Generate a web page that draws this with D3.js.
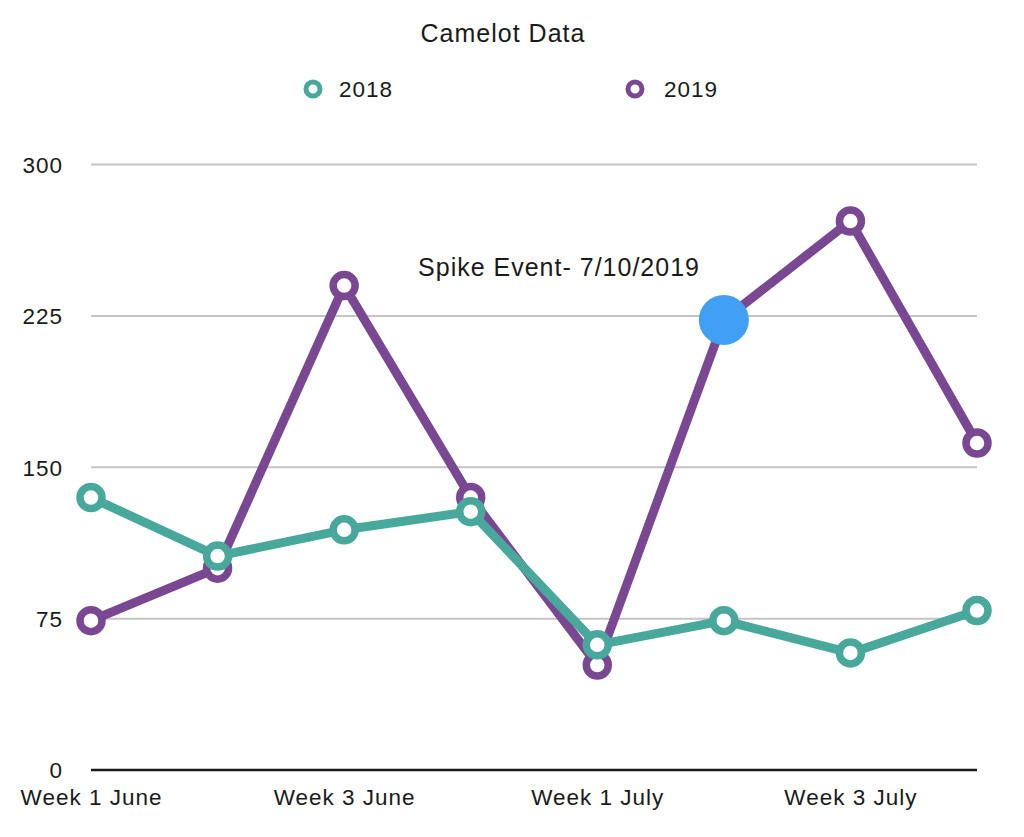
<!DOCTYPE html>
<html><head><meta charset="utf-8">
<script src="https://cdn.jsdelivr.net/npm/d3@7"></script>
<style>
html,body{margin:0;padding:0;background:#fff;}
text{font-family:"Liberation Sans",Arial,Helvetica,sans-serif;fill:#1a1a1a;letter-spacing:1px;}
</style></head>
<body>
<svg id="chart" width="1024" height="837"></svg>
<script>
const title = "Camelot Data";
const categories = ["Week 1 June","Week 2 June","Week 3 June","Week 4 June","Week 1 July","Week 2 July","Week 3 July","Week 4 July"];
const xTickLabels = ["Week 1 June","Week 3 June","Week 1 July","Week 3 July"];
const yTicks = [0,75,150,225,300];
const series2018 = [135,106,119,128,62,74,58,79];
const series2019 = [74,100,240,135,52,223,272,162];
const seriesNames = ["2018","2019"];
const spikeCategory = "Week 2 July";
const spikeLabel = "Spike Event- 7/10/2019";

const colors = {"2018":"#48a89b","2019":"#7a4892"};
const svg = d3.select("#chart");
const x = d3.scalePoint().domain(categories).range([91,977]);
const y = d3.scaleLinear().domain([0,300]).range([770,164.5]);

// title
svg.append("text").attr("x",503).attr("y",42).attr("text-anchor","middle")
  .style("font-size","25px").text(title);

// legend
const legendPos = [{mx:313,tx:339},{mx:635,tx:664}];
seriesNames.forEach((n,i)=>{
  svg.append("circle").attr("cx",legendPos[i].mx).attr("cy",89).attr("r",7)
    .attr("fill","#fff").attr("stroke",colors[n]).attr("stroke-width",5);
  svg.append("text").attr("x",legendPos[i].tx).attr("y",97)
    .style("font-size","22.5px").text(n);
});

// gridlines
svg.append("g").selectAll("line").data(yTicks.filter(d=>d>0)).join("line")
  .attr("x1",91).attr("x2",977).attr("y1",d=>y(d)).attr("y2",d=>y(d))
  .attr("stroke","#c4c4c4").attr("stroke-width",2);

// y axis labels
const yAxis = d3.axisLeft(y).tickValues(yTicks).tickSize(0).tickPadding(0);
const gy = svg.append("g").attr("transform","translate(63,0)").call(yAxis);
gy.select(".domain").remove();
gy.selectAll("text").style("font-size","22.5px").attr("dy","0.35em").attr("x",0)
  .style("font-family",'"Liberation Sans",Arial,sans-serif').attr("fill","#1a1a1a");

// x axis
const xAxis = d3.axisBottom(x).tickValues(xTickLabels).tickSize(0).tickPadding(0);
const gx = svg.append("g").attr("transform","translate(0,770)").call(xAxis);
gx.select(".domain").remove();
gx.selectAll("text").style("font-size","22.5px").attr("y",35).attr("dy",0)
  .style("font-family",'"Liberation Sans",Arial,sans-serif').attr("fill","#1a1a1a");
svg.append("line").attr("x1",91).attr("x2",977).attr("y1",y(0)).attr("y2",y(0))
  .attr("stroke","#1a1a1a").attr("stroke-width",2.5);

// series
const line = d3.line().x((d,i)=>x(categories[i])).y(d=>y(d));
function drawSeries(vals,name,skip){
  const g = svg.append("g");
  g.append("path").datum(vals).attr("d",line).attr("fill","none")
    .attr("stroke",colors[name]).attr("stroke-width",9).attr("stroke-linejoin","round");
  g.selectAll("circle").data(vals.map((v,i)=>({v,c:categories[i]})).filter(d=>d.c!==skip)).join("circle")
    .attr("cx",d=>x(d.c)).attr("cy",d=>y(d.v)).attr("r",11)
    .attr("fill","#fff").attr("stroke",colors[name]).attr("stroke-width",7.5);
}
drawSeries(series2019,"2019",spikeCategory);
drawSeries(series2018,"2018",null);

// spike event
const si = categories.indexOf(spikeCategory);
svg.append("circle").attr("cx",x(spikeCategory)).attr("cy",y(series2019[si])).attr("r",25)
  .attr("fill","#42a0f4");
svg.append("text").attr("x",559).attr("y",276).attr("text-anchor","middle")
  .style("font-size","25px").text(spikeLabel);
</script>
</body></html>
